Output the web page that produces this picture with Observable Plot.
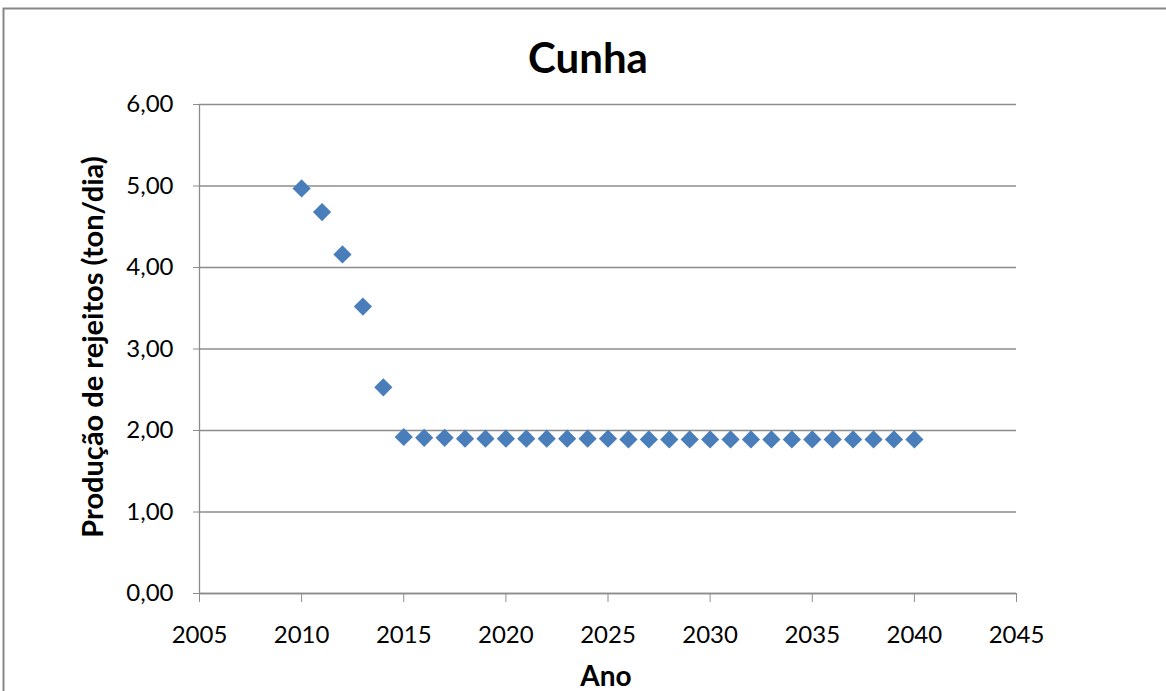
<!DOCTYPE html>
<html>
<head>
<meta charset="utf-8">
<script src="https://cdn.jsdelivr.net/npm/d3@7"></script>
<script src="https://cdn.jsdelivr.net/npm/@observablehq/plot@0.6"></script>
<style>
  html, body { margin: 0; padding: 0; background: #fff; }
  #chart { position: relative; width: 1166px; height: 691px; overflow: hidden; }
</style>
</head>
<body>
<div id="chart"></div>
<script>
const title = "Cunha";
const xTitle = "Ano";
const yTitle = "Produção de rejeitos (ton/dia)";
const years = [2010, 2011, 2012, 2013, 2014, 2015, 2016, 2017, 2018, 2019, 2020,
  2021, 2022, 2023, 2024, 2025, 2026, 2027, 2028, 2029, 2030,
  2031, 2032, 2033, 2034, 2035, 2036, 2037, 2038, 2039, 2040];
const values = [4.97, 4.68, 4.16, 3.52, 2.53, 1.92, 1.91, 1.91, 1.90, 1.90, 1.90,
  1.90, 1.90, 1.90, 1.90, 1.90, 1.89, 1.89, 1.89, 1.89, 1.89,
  1.89, 1.89, 1.89, 1.89, 1.89, 1.89, 1.89, 1.89, 1.89, 1.89];
const xTicks = [2005, 2010, 2015, 2020, 2025, 2030, 2035, 2040, 2045];
const yTicks = [0, 1, 2, 3, 4, 5, 6];

const data = years.map((y, i) => ({ano: y, valor: values[i]}));
const fmt = v => v.toFixed(2).replace(".", ",");

const W = 1166, H = 691;
const plot = Plot.plot({
  width: W,
  height: H,
  marginLeft: 199,
  marginRight: 150,
  marginTop: 104,
  marginBottom: 98,
  style: {fontFamily: "Lato, 'Open Sans', sans-serif", fontSize: "24px", color: "#000", background: "transparent"},
  x: {domain: [2005, 2045], ticks: xTicks, tickFormat: d => String(d)},
  y: {domain: [0, 6], ticks: yTicks, tickFormat: fmt},
  marks: [
    Plot.gridY(yTicks, {stroke: "#8c8c8c", strokeOpacity: 1, strokeWidth: 1.3}),
    Plot.axisY(yTicks, {tickSize: 6, tickPadding: 20, tickFormat: fmt, label: null, stroke: "#8c8c8c", strokeOpacity: 1, fill: "#000"}),
    Plot.axisX(xTicks, {tickSize: 9, tickPadding: 23, tickFormat: d => String(d), label: null, stroke: "#8c8c8c", strokeOpacity: 1, fill: "#000"}),
    Plot.ruleX([2005], {stroke: "#8c8c8c", strokeWidth: 1.3}),
    Plot.ruleY([0], {stroke: "#8c8c8c", strokeWidth: 1.3}),
    Plot.dot(data, {x: "ano", y: "valor", symbol: "diamond2", r: 8.2, fill: "#4a7ebb", stroke: "none"})
  ]
});

const svg = d3.select(plot);
// outer chart border (continues off the right and bottom edges)
svg.insert("rect", ":first-child")
  .attr("x", 3.5).attr("y", 8.5).attr("width", 1200).attr("height", 800)
  .attr("fill", "#fff").attr("stroke", "#878787").attr("stroke-width", 2);
svg.append("text")
  .attr("x", 588).attr("y", 73)
  .attr("text-anchor", "middle")
  .attr("font-weight", "bold").attr("font-size", 42)
  .text(title);
svg.append("text")
  .attr("x", 606).attr("y", 686)
  .attr("text-anchor", "middle")
  .attr("font-weight", "bold").attr("font-size", 28)
  .text(xTitle);
svg.append("text")
  .attr("transform", "translate(103,347) rotate(-90)")
  .attr("text-anchor", "middle")
  .attr("font-weight", "bold").attr("font-size", 29)
  .text(yTitle);

document.getElementById("chart").appendChild(plot);
</script>
</body>
</html>
